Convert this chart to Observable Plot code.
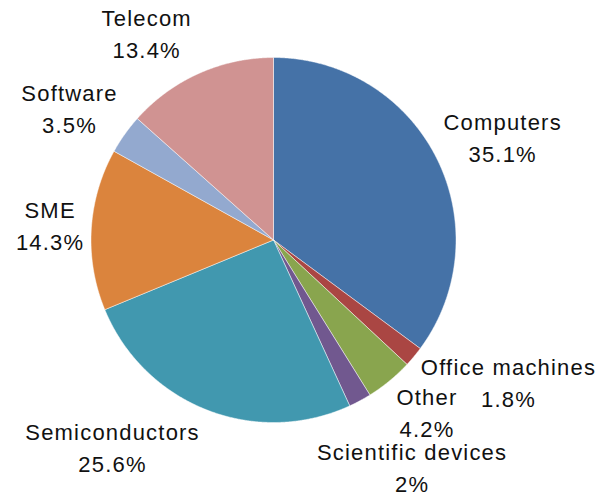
<!DOCTYPE html>
<html><head><meta charset="utf-8">
<script src="https://cdn.jsdelivr.net/npm/d3@7"></script>
<script src="https://cdn.jsdelivr.net/npm/@observablehq/plot@0.6"></script>
<style>
body{margin:0;background:#fff}
#chart svg text{letter-spacing:1.2px}
</style></head><body><div id="chart"></div>
<script>
const categories = ["Computers","Office machines","Other","Scientific devices","Semiconductors","SME","Software","Telecom"];
const shares = [35.1, 1.8, 4.2, 2, 25.6, 14.3, 3.5, 13.4];
const sliceColors = ["#4572A7","#AA4643","#89A54E","#71588F","#4198AF","#DB843D","#93A9CF","#D09392"];

const W = 607, H = 496, CX = 273, CY = 239.5, R = 182.5;
const FONT = '"Liberation Sans", Arial, sans-serif', FS = 22, LS = 1.2, GAP = 7;

const arcs = d3.pie().sort(null).value(d => d)(shares);

// slice outlines in unit-radius coordinates (y up)
const slicePts = [];
arcs.forEach((a, i) => {
  const n = Math.max(2, Math.ceil((a.endAngle - a.startAngle) / 0.005));
  slicePts.push({name: categories[i], x: 0, y: 0});
  for (let k = 0; k <= n; k++) {
    const t = a.startAngle + (a.endAngle - a.startAngle) * k / n;
    slicePts.push({name: categories[i], x: Math.sin(t), y: Math.cos(t)});
  }
  slicePts.push({name: categories[i], x: 0, y: 0});
});

// label layout (pixels), then converted to data units
const ctx = document.createElement("canvas").getContext("2d");
ctx.font = `${FS}px ${FONT}`;
const tw = s => ctx.measureText(s).width + LS * s.length;
const placed = [];
const labels = arcs.map((a, i) => {
  const m = (a.startAngle + a.endAngle) / 2, ux = Math.sin(m), uy = -Math.cos(m);
  const px = CX + R * ux, py = CY + R * uy;
  const name = categories[i], pct = shares[i] + "%";
  const w1 = tw(name), w2 = tw(pct), w = Math.max(w1, w2);
  let cx = px + Math.sign(ux) * (w / 2 + GAP), cy = py + uy * 42.5;
  const boxes = (cx, cy) => [
    {x0: cx - w1/2, x1: cx + w1/2, y0: cy - 26, y1: cy - 4},
    {x0: cx - w2/2, x1: cx + w2/2, y0: cy + 6, y1: cy + 28}];
  const hit = (b, c) => b.x0 < c.x1 && c.x0 < b.x1 && b.y0 < c.y1 && c.y0 < b.y1;
  const prev = placed[placed.length - 1];
  if (prev && boxes(cx, cy).some(b => prev.boxes.some(c => hit(b, c)))) {
    cy = prev.cy + 55;
    cx = px + Math.sign(ux) * GAP + ux * w / 2;
  }
  const rec = {cx, cy, boxes: boxes(cx, cy)};
  placed.push(rec);
  return {name, pct, x: (cx - CX) / R, yName: (CY - (cy - 9)) / R, yPct: (CY - (cy + 23)) / R};
});

const chart = Plot.plot({
  width: W, height: H,
  marginTop: 0, marginRight: 0, marginBottom: 0, marginLeft: 0,
  x: {domain: [(0 - CX) / R, (W - CX) / R], axis: null},
  y: {domain: [(CY - H) / R, CY / R], axis: null},
  color: {domain: categories, range: sliceColors},
  style: {fontFamily: FONT, background: "#fff"},
  marks: [
    Plot.line(slicePts, {x: "x", y: "y", z: "name", fill: "name", stroke: "#fff", strokeWidth: 0.6, strokeOpacity: 0.8}),
    Plot.text(labels, {x: "x", y: "yName", text: "name", fontSize: FS, lineAnchor: "bottom", textAnchor: "middle", fill: "#111"}),
    Plot.text(labels, {x: "x", y: "yPct", text: "pct", fontSize: FS, lineAnchor: "bottom", textAnchor: "middle", fill: "#111"})
  ]
});
document.getElementById("chart").append(chart);
</script></body></html>
